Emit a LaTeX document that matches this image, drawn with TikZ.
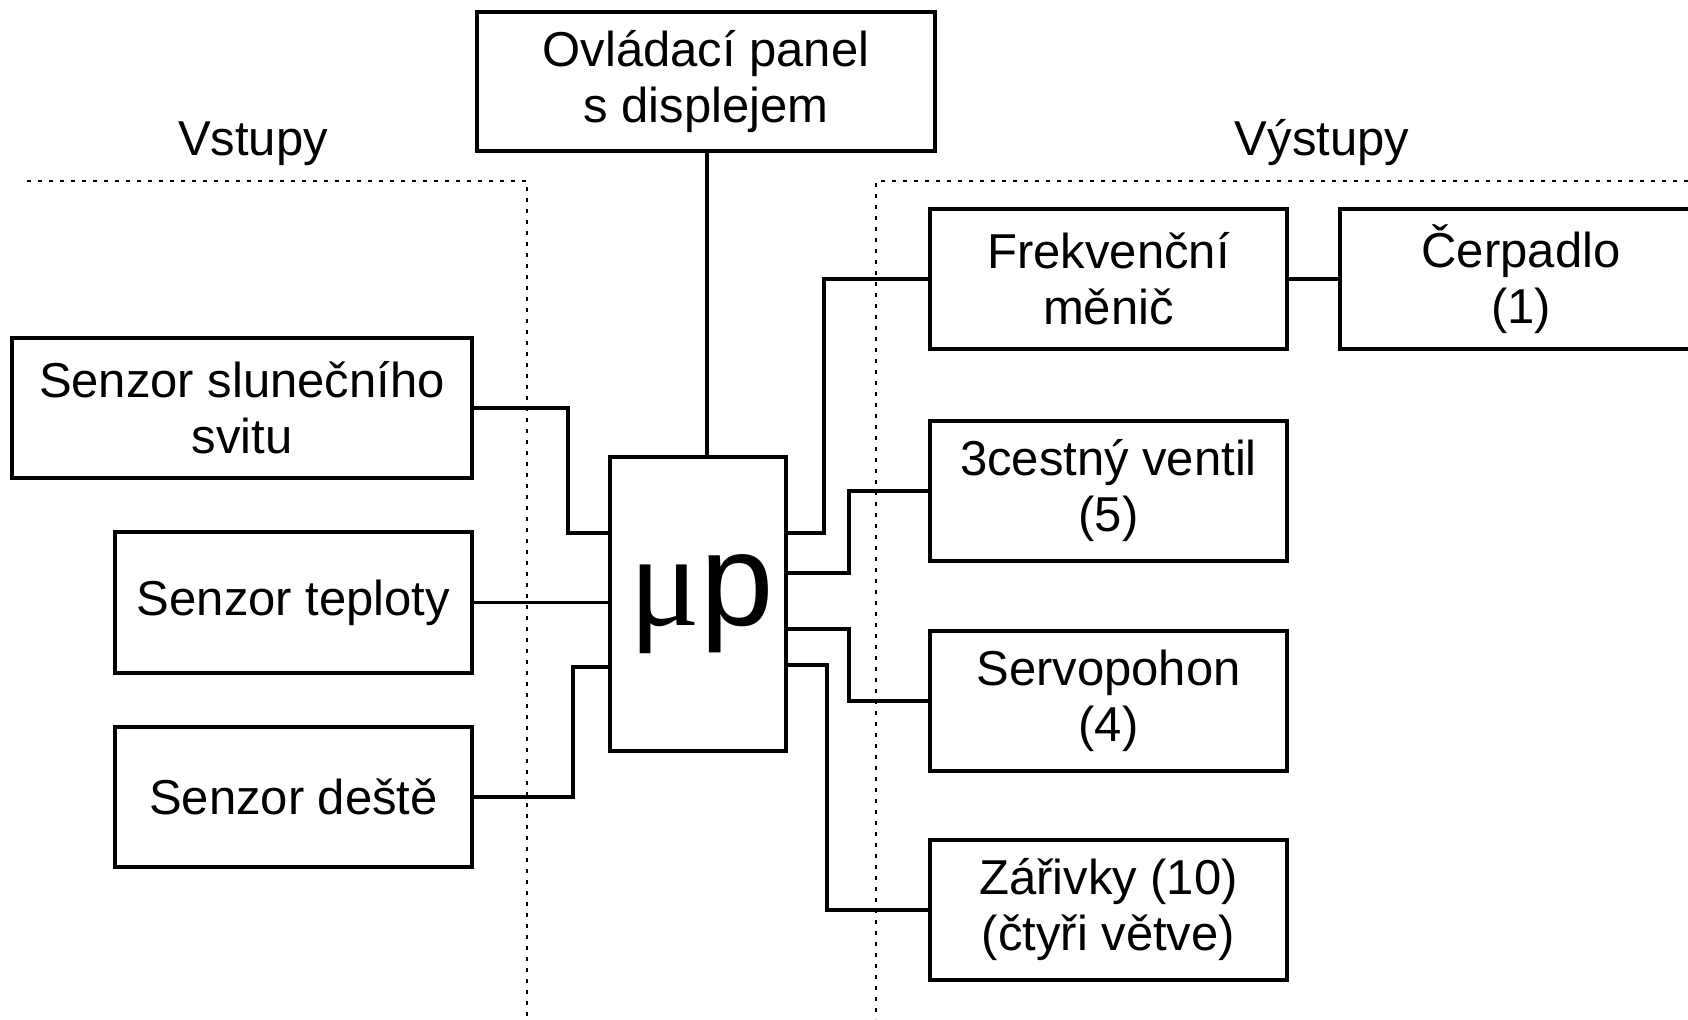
\documentclass[tikz,border=0pt]{standalone}
\usepackage{fontspec}
\setmainfont{Liberation Sans}
\newfontfamily\serifmu{Liberation Serif}
\begin{document}
\begin{tikzpicture}[x=0.5pt,y=-0.5pt,
  box/.style={draw,line width=1.6pt,inner sep=0pt,outer sep=0pt,align=center,
    font=\fontsize{24.5pt}{28pt}\selectfont},
  wire/.style={line width=1.6pt},
  dotline/.style={line width=1.2pt,dash pattern=on 2pt off 3.5pt},
  lbl/.style={inner sep=0pt,font=\fontsize{24.5pt}{28pt}\selectfont}]
\useasboundingbox (0,0) rectangle (1688,1019);
\begin{scope}
\clip (0,0) rectangle (1688,1019);
% dotted separators
\draw[dotline] (27,181) -- (527,181) -- (527,1019);
\draw[dotline] (1688,181) -- (876,181) -- (876,1019);
\node[lbl,anchor=base] (vst) at (253,155) {Vstupy};
\node[lbl,anchor=base] (vys) at (1322,155) {Výstupy};
% boxes
\node[box,minimum width=229pt,minimum height=69.5pt] (panel) at (706,81.5) {Ovládací panel\\s displejem};
\node[box,minimum width=88pt,minimum height=147pt] (mp) at (698,604) {};
\node[inner sep=0pt,anchor=base] (mptext) at (702,625) {\fontsize{66pt}{66pt}\selectfont{\serifmu μ}p};
\node[box,minimum width=230pt,minimum height=70pt] (sun) at (242,408) {Senzor slunečního\\svitu};
\node[box,minimum width=178.5pt,minimum height=70.5pt] (tep) at (293.5,602.5) {Senzor teploty};
\node[box,minimum width=178.5pt,minimum height=70pt] (des) at (293.5,797) {Senzor deště};
\node[box,minimum width=178.5pt,minimum height=70pt] (frek) at (1108.5,279) {Frekvenční\\měnič};
\node[box,minimum width=181pt,minimum height=70pt] (cerp) at (1521,279) {Čerpadlo\\(1)};
\node[box,minimum width=178.5pt,minimum height=70pt] (vent) at (1108.5,491) {3cestný ventil\\(5)};
\node[box,minimum width=178.5pt,minimum height=70pt] (servo) at (1108.5,701) {Servopohon\\(4)};
\node[box,minimum width=178.5pt,minimum height=70pt] (zar) at (1108.5,910) {Zářivky (10)\\(čtyři větve)};
% ports on the microprocessor
\coordinate (pl1) at (610,533);
\coordinate (pl3) at (610,667);
\coordinate (pr1) at (786,533);
\coordinate (pr2) at (786,573);
\coordinate (pr3) at (786,629);
\coordinate (pr4) at (786,665);
% connectors
\draw[wire] (panel.south -| 707,0) -- (mp.north -| 707,0);
\draw[wire] (sun.east) -| (568,533) -- (pl1);
\draw[wire] (tep.east) -- (tep.east -| mp.west);
\draw[wire] (des.east) -| (573,667) -- (pl3);
\draw[wire] (pr1) -| (824,279) -- (frek.west);
\draw[wire] (pr2) -| (849,491) -- (vent.west);
\draw[wire] (pr3) -| (849,701) -- (servo.west);
\draw[wire] (pr4) -| (827,910) -- (zar.west);
\draw[wire] (frek.east) -- (cerp.west);
\end{scope}
\end{tikzpicture}
\end{document}
